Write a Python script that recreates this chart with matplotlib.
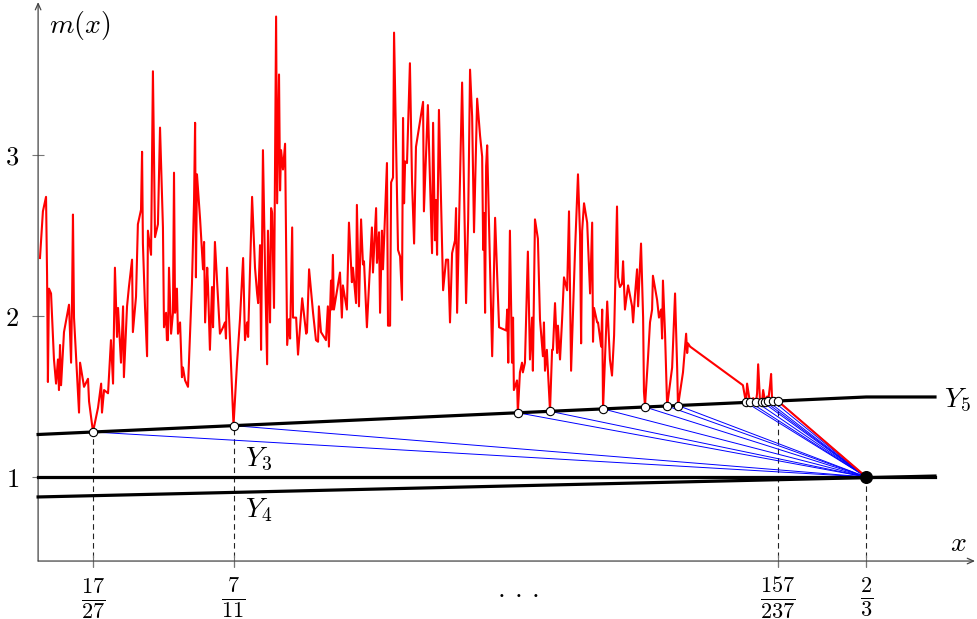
import numpy as np
import matplotlib
matplotlib.use("Agg")
import matplotlib.pyplot as plt

plt.rcParams['mathtext.fontset'] = 'cm'
plt.rcParams['font.family'] = ['DejaVu Serif']

# m(x) egrisi (okunan degerler)
curve_x = [
    0.62709, 0.62723, 0.62738, 0.62743, 0.62747, 0.62752, 0.62762, 0.62776, 0.62786, 0.62795,
    0.62800, 0.62805, 0.62810, 0.62824, 0.62848, 0.62858, 0.62863, 0.62867, 0.62872, 0.62896,
    0.62901, 0.62920, 0.62939, 0.62944, 0.62963, 0.62987, 0.63002, 0.63006, 0.63016, 0.63035,
    0.63049, 0.63059, 0.63068, 0.63078, 0.63083, 0.63097, 0.63107, 0.63111, 0.63126, 0.63135,
    0.63150, 0.63154, 0.63169, 0.63178, 0.63193, 0.63198, 0.63202, 0.63212, 0.63222, 0.63226,
    0.63241, 0.63250, 0.63260, 0.63274, 0.63284, 0.63298, 0.63303,
    0.63313, 0.63317, 0.63322, 0.63327, 0.63337, 0.63346, 0.63351, 0.63356, 0.63365, 0.63370,
    0.63380, 0.63389, 0.63394, 0.63404, 0.63418, 0.63437, 0.63447, 0.63452, 0.63456, 0.63461,
    0.63476, 0.63490, 0.63495, 0.63500, 0.63510, 0.63514, 0.63523, 0.63533, 0.63538, 0.63547,
    0.63571, 0.63586, 0.63595, 0.63600, 0.63605, 0.63619, 0.63636, 0.63653, 0.63667, 0.63682,
    0.63691, 0.63701, 0.63706, 0.63725, 0.63739, 0.63749, 0.63754, 0.63763, 0.63768, 0.63777,
    0.63787, 0.63797, 0.63801, 0.63811, 0.63816, 0.63821, 0.63830, 0.63840, 0.63845, 0.63854,
    0.63859, 0.63864, 0.63873, 0.63883, 0.63893,
    0.63902, 0.63907, 0.63917, 0.63921, 0.63936, 0.63945, 0.63965, 0.63984, 0.63988, 0.63998,
    0.64007, 0.64017, 0.64031, 0.64041, 0.64045, 0.64055, 0.64079, 0.64088, 0.64093, 0.64103,
    0.64107, 0.64112, 0.64117, 0.64146, 0.64155, 0.64160, 0.64179, 0.64189, 0.64203, 0.64208,
    0.64223, 0.64227, 0.64237, 0.64247, 0.64256, 0.64261, 0.64275, 0.64299, 0.64304, 0.64319,
    0.64323, 0.64333, 0.64338, 0.64347, 0.64352, 0.64371, 0.64376, 0.64386, 0.64391, 0.64400,
    0.64405,
    0.64424, 0.64434, 0.64443, 0.64448, 0.64453, 0.64458, 0.64467, 0.64481, 0.64491, 0.64501,
    0.64510, 0.64544, 0.64548, 0.64558, 0.64567, 0.64587, 0.64592, 0.64601, 0.64606, 0.64611,
    0.64620, 0.64640, 0.64654, 0.64664, 0.64673, 0.64683, 0.64697, 0.64702, 0.64707, 0.64731,
    0.64750, 0.64760, 0.64769, 0.64779, 0.64788, 0.64803, 0.64817, 0.64827, 0.64832, 0.64836,
    0.64841, 0.64846, 0.64851, 0.64875, 0.64889, 0.64908, 0.64942, 0.64947, 0.64952, 0.64960,
    0.64970, 0.64975, 0.64979, 0.64994, 0.64998, 0.65008, 0.65018, 0.65022, 0.65032, 0.65046,
    0.65056, 0.65066, 0.65070, 0.65080, 0.65094, 0.65104, 0.65118, 0.65123, 0.65128, 0.65137,
    0.65152, 0.65162, 0.65166, 0.65176, 0.65186, 0.65190, 0.65200, 0.65210, 0.65219, 0.65234,
    0.65243, 0.65253, 0.65272, 0.65286, 0.65296, 0.65301, 0.65306, 0.65315, 0.65330, 0.65344,
    0.65354, 0.65358, 0.65363, 0.65378, 0.65382, 0.65397, 0.65402, 0.65406, 0.65426, 0.65439,
    0.65449, 0.65459, 0.65473, 0.65478, 0.65487, 0.65497, 0.65502, 0.65511, 0.65526, 0.65545,
    0.65550, 0.65559, 0.65569, 0.65574, 0.65588, 0.65598, 0.65602, 0.65607, 0.65621, 0.65631,
    0.65641, 0.65645, 0.65665, 0.65674, 0.65684, 0.65689, 0.65693, 0.65703, 0.65713, 0.65737,
    0.65751, 0.65761, 0.65765, 0.65789, 0.65804, 0.65809, 0.65813, 0.65823,
    0.66076, 0.66091, 0.66096, 0.66110, 0.66125, 0.66139, 0.66144, 0.66149, 0.66158, 0.66168,
    0.66173, 0.66182, 0.66192, 0.66197, 0.66206, 0.66211, 0.66216, 0.66221, 0.66230, 0.66245,
    0.66667,
]
curve_y = [
    2.36, 2.65, 2.74, 2.25, 1.59, 2.17, 2.14, 1.73, 1.58, 1.73,
    1.54, 1.82, 1.57, 1.90, 2.07, 1.71, 2.15, 2.63, 1.99, 1.40,
    1.71, 1.56, 1.61, 1.47, 1.28, 1.43, 1.58, 1.40, 1.54, 1.52,
    1.85, 1.58, 2.30, 1.87, 2.05, 1.71, 2.06, 1.62, 2.06, 2.18,
    2.35, 1.90, 2.12, 2.57, 2.66, 3.02, 2.45, 2.06, 1.75, 2.53,
    2.38, 3.52, 2.49, 2.57, 3.17, 2.55, 1.93,
    2.02, 1.85, 1.85, 2.30, 1.89, 2.02, 2.89, 2.02, 2.17, 1.89,
    1.96, 1.62, 1.68, 1.60, 1.56, 2.20, 2.72, 3.20, 2.24, 2.88,
    2.60, 2.29, 2.46, 1.96, 2.30, 2.18, 1.79, 2.18, 1.93, 2.46,
    1.89, 1.93, 1.96, 1.86, 2.30, 1.85, 1.32, 1.71, 1.98, 2.36,
    1.85, 1.96, 1.87, 2.74, 2.30, 2.14, 2.08, 2.44, 1.79, 3.03,
    2.30, 1.70, 2.53, 1.96, 2.67, 2.64, 2.05, 3.86, 2.70, 3.50,
    2.78, 3.03, 2.91, 3.07, 1.82,
    1.98, 1.86, 2.55, 1.99, 1.99, 1.76, 2.11, 1.89, 1.90, 2.29,
    2.16, 2.02, 1.85, 1.84, 2.06, 1.90, 1.85, 2.06, 1.81, 2.22,
    2.04, 2.38, 2.04, 2.27, 1.99, 2.19, 2.04, 2.58, 2.21, 2.30,
    2.08, 2.69, 2.06, 2.60, 2.32, 2.34, 1.93, 2.55, 2.27, 2.67,
    2.33, 2.52, 2.02, 2.53, 2.29, 2.95, 1.94, 1.94, 2.83, 2.86,
    3.76,
    2.41, 2.37, 2.10, 3.23, 2.70, 2.96, 2.95, 3.57, 2.84, 2.45,
    3.05, 3.33, 2.65, 2.99, 3.31, 2.39, 3.20, 2.47, 2.72, 2.38,
    3.28, 2.16, 2.35, 2.35, 1.96, 2.39, 2.47, 2.67, 2.02, 3.45,
    2.08, 2.60, 3.53, 3.24, 2.52, 3.35, 3.12, 2.99, 2.41, 2.64,
    2.02, 2.93, 3.06, 1.75, 2.61, 1.93, 1.91, 2.04, 1.71, 2.53,
    1.71, 1.99, 1.54, 1.60, 1.40, 1.65, 1.71, 1.65, 1.71, 2.40,
    1.73, 1.99, 1.66, 2.60, 2.48, 1.98, 1.75, 1.96, 1.66, 1.79,
    1.41, 1.79, 1.79, 2.08, 1.77, 1.94, 1.73, 1.98, 2.24, 2.16,
    2.65, 1.66, 2.41, 2.88, 2.50, 1.83, 2.53, 2.70, 2.58, 2.14,
    2.58, 1.84, 2.05, 1.96, 1.96, 1.81, 2.04, 1.42, 2.09, 1.73,
    1.63, 1.88, 2.68, 2.24, 2.18, 2.20, 2.34, 2.04, 2.19, 2.06,
    1.96, 2.13, 2.29, 2.06, 2.45, 1.99, 1.53, 1.44, 1.73, 1.96,
    2.04, 2.25, 2.10, 1.99, 2.04, 1.86, 2.22, 1.89, 1.44, 1.68,
    2.14, 1.68, 1.44, 1.65, 1.89, 1.77, 1.83, 1.81,
    1.57, 1.46, 1.58, 1.46, 1.49, 1.47, 1.52, 1.70, 1.47, 1.47,
    1.54, 1.47, 1.50, 1.47, 1.57, 1.64, 1.47, 1.47, 1.49, 1.47,
    1.00,
]

# Y3, Y4, Y5 dogrulari
y3_x = [0.62700, 0.66996]
y3_y = [1.0, 1.0]
y4_x = [0.62700, 0.66996]
y4_y = [0.876, 1.006]
y5_x = [0.62700, 2 / 3, 0.66996]
y5_y = [1.264, 1.497, 1.497]

# Y5 uzerindeki noktalar
circle_x = [17 / 27, 7 / 11, 0.64998, 0.65152, 0.65406, 0.65607, 0.65713, 0.65765,
            0.66091, 0.66110, 0.66139, 0.66168, 0.66182, 0.66197, 0.66221, 157 / 237]
target = (2 / 3, 1.0)

# dikey kesikli cizgiler
dashed_x = [17 / 27, 7 / 11, 157 / 237]

xtick_vals = [17 / 27, 7 / 11, 157 / 237, 2 / 3]
xtick_labels = [r'$\frac{17}{27}$', r'$\frac{7}{11}$', r'$\frac{157}{237}$', r'$\frac{2}{3}$']
ytick_vals = [1, 2, 3]
ytick_labels = [r'$1$', r'$2$', r'$3$']

X0, Y0 = 0.62700, 0.478  # eksenlerin kesisimi
XMAX, YMAX = 0.67188, 3.95

fig = plt.figure(figsize=(9.77, 6.19), dpi=100)
ax = fig.add_axes([0, 0, 1, 1])
ax.set_xlim(0.625175, 0.671973)
ax.set_ylim(0.118, 3.9627)

axis_col = '#444444'
for s in ax.spines.values():
    s.set_visible(False)
ax.spines['left'].set_position(('data', X0))
ax.spines['bottom'].set_position(('data', Y0))

ax.annotate('', xy=(XMAX, Y0), xytext=(X0, Y0),
            arrowprops=dict(arrowstyle='->,head_length=0.45,head_width=0.2', lw=0.9,
                            color=axis_col, shrinkA=0, shrinkB=0))
ax.annotate('', xy=(X0, YMAX), xytext=(X0, Y0),
            arrowprops=dict(arrowstyle='->,head_length=0.45,head_width=0.2', lw=0.9,
                            color=axis_col, shrinkA=0, shrinkB=0))

ax.set_xticks(xtick_vals)
ax.set_xticklabels(xtick_labels, fontsize=23)
ax.set_yticks(ytick_vals)
ax.set_yticklabels(ytick_labels, fontsize=19)
ax.tick_params(axis='x', direction='inout', length=9, width=0.8, color='#777777', pad=6)
ax.tick_params(axis='y', direction='inout', length=9, width=0.8, color='#777777', pad=9)

# kesikli dikey cizgiler
y5_at_dash = np.interp(dashed_x, y5_x, y5_y)
for xv, yv in zip(dashed_x, y5_at_dash):
    ax.plot([xv, xv], [0.441, yv], color='#222222', lw=0.8, ls=(0, (5, 3.5)), zorder=1)
ax.plot([target[0], target[0]], [0.441, target[1]], color='#222222', lw=0.8,
        ls=(0, (5, 3.5)), zorder=1)

# mavi cizgiler
circle_y = np.interp(circle_x, y5_x, y5_y)
for cx, cy in zip(circle_x, circle_y):
    ax.plot([cx, target[0]], [cy, target[1]], color='blue', lw=0.7, zorder=2)

# Y dogrulari
ax.plot(y3_x, y3_y, color='black', lw=2.3, zorder=3)
ax.plot(y4_x, y4_y, color='black', lw=2.3, zorder=3)
ax.plot(y5_x, y5_y, color='black', lw=2.3, zorder=3)

# m(x)
ax.plot(curve_x, curve_y, color='red', lw=1.5, zorder=4)

ax.scatter(circle_x, circle_y, s=36, facecolor='white', edgecolor='black', lw=0.8, zorder=5)
ax.scatter([target[0]], [target[1]], s=70, color='black', zorder=6)

ax.text(0.62901, 3.807, r'$m(x)$', fontsize=20, ha='center', va='center')
ax.text(0.67106, 0.585, r'$x$', fontsize=20, ha='center', va='center')
ax.text(0.67039, 1.478, r'$Y_5$', fontsize=20, ha='left', va='center')
ax.text(0.63691, 1.106, r'$Y_3$', fontsize=20, ha='left', va='center')
ax.text(0.63691, 0.795, r'$Y_4$', fontsize=20, ha='left', va='center')
ax.text(0.64999, 0.2795, r'${\cdot}\hspace{0.4}{\cdot}\hspace{0.4}{\cdot}$', fontsize=20,
        ha='center', va='center')

fig.savefig('out.png', dpi=100)
